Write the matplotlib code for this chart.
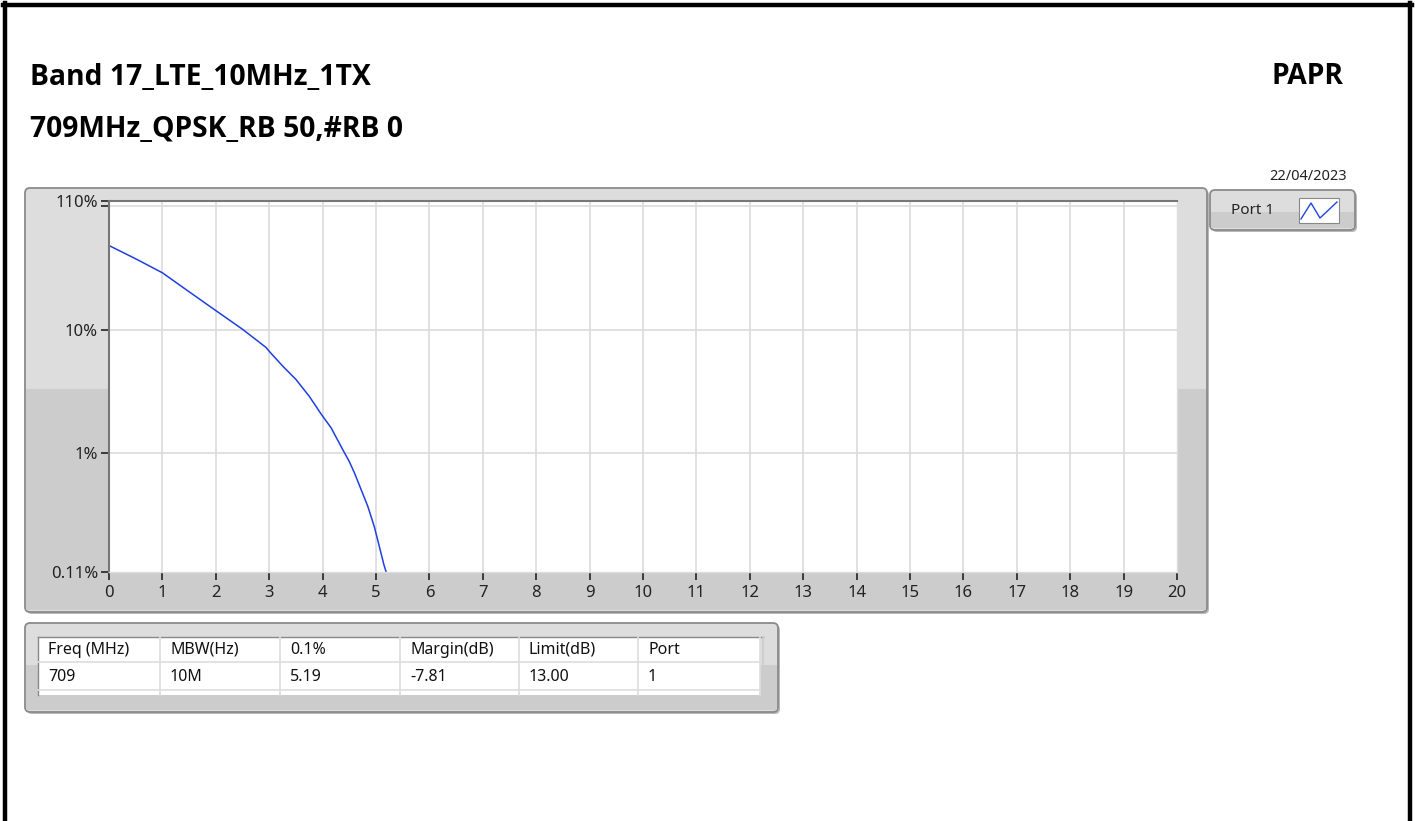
import numpy as np
import matplotlib.pyplot as plt
from matplotlib.patches import FancyBboxPatch, Rectangle
from matplotlib.ticker import FixedLocator, NullFormatter

# PAPR CCDF curve
papr_db = [0.0, 0.5, 1.0, 1.5, 2.0, 2.5, 2.94, 3.0, 3.25, 3.5, 3.75, 3.97, 4.16, 4.25,
           4.4, 4.5, 4.6, 4.75, 4.85, 4.97, 5.08, 5.15, 5.19]
ccdf_pct = [48.0, 37.5, 28.9, 20.3, 14.3, 10.1, 7.2, 6.7, 5.1, 3.97, 2.9, 2.09, 1.61, 1.36,
            1.03, 0.86, 0.69, 0.475, 0.37, 0.254, 0.165, 0.125, 0.11]

y_ticks = [110, 10, 1, 0.11]
y_tick_labels = ['110%', '10%', '1%', '0.11%']
y_grid = [100, 10, 1]
x_ticks = list(range(0, 21))

title1 = 'Band 17_LTE_10MHz_1TX'
title2 = '709MHz_QPSK_RB 50,#RB 0'
test_name = 'PAPR'
date_str = '22/04/2023'
legend_name = 'Port 1'

table_cols = ['Freq (MHz)', 'MBW(Hz)', '0.1%', 'Margin(dB)', 'Limit(dB)', 'Port']
table_row = ['709', '10M', '5.19', '-7.81', '13.00', '1']

W, H = 1415, 821
plt.rcParams['font.family'] = ['Noto Sans', 'DejaVu Sans']
fig = plt.figure(figsize=(W / 100, H / 100), dpi=100)
fig.patch.set_facecolor('white')


def px(x0, y0, x1, y1):
    return [x0 / W, 1 - y1 / H, (x1 - x0) / W, (y1 - y0) / H]


bg = fig.add_axes([0, 0, 1, 1])
bg.set_xlim(0, W)
bg.set_ylim(H, 0)
bg.axis('off')

# outer black frame
bg.add_line(plt.Line2D([5, 5], [3, H], color='black', lw=3.2))
bg.add_line(plt.Line2D([3, 1412], [5, 5], color='black', lw=3.2))
bg.add_line(plt.Line2D([1410, 1410], [3, H], color='black', lw=3.2))

# titles
tfont = dict(fontsize=20.3, fontweight='bold', family=['Open Sans', 'DejaVu Sans'], va='center')
bg.text(30, 77, title1, ha='left', **tfont)
bg.text(30, 129, title2, ha='left', **tfont)
bg.text(1343, 77, test_name, ha='right', **tfont)
bg.text(1347, 176, date_str, fontsize=10.5, va='center', ha='right', color='#222222')


def panel(x0, y0, x1, y1, split):
    # shadow
    bg.add_patch(FancyBboxPatch((x0 + 2, y0 + 2), x1 - x0, y1 - y0,
                                boxstyle='round,pad=0,rounding_size=5',
                                fc='#b8b8b8', ec='none', zorder=1))
    bg.add_patch(FancyBboxPatch((x0, y0), x1 - x0, y1 - y0,
                                boxstyle='round,pad=0,rounding_size=5',
                                fc='#dddddd', ec='#8a8a8a', lw=1.3, zorder=2))
    bg.add_patch(Rectangle((x0 + 1, split), x1 - x0 - 2, y1 - split - 2,
                           fc='#cccccc', ec='none', zorder=2.5))


# graph panel
panel(25, 188, 1207, 612, 389)
# legend panel
panel(1210, 190, 1355, 230, 212)
bg.text(1253, 211, legend_name, fontsize=11, va='center', ha='center', color='#222222', zorder=5)
bg.add_patch(Rectangle((1299, 198), 40, 25, fc='white', ec='#888888', lw=0.8, zorder=5))
bg.plot([1301, 1311, 1320, 1337], [219, 203, 218, 202], color='#2244dd', lw=1, zorder=6)

# table panel
panel(25, 623, 778, 712, 665)
tx0, tx1 = 38, 760
bg.add_patch(Rectangle((tx0, 637), tx1 - tx0, 58, fc='white', ec='none', zorder=3))
bg.add_line(plt.Line2D([tx0, tx1 + 3], [637, 637], color='#888888', lw=1, zorder=4))
bg.add_line(plt.Line2D([tx0, tx0], [637, 695], color='#888888', lw=1, zorder=4))
for yy in [662, 690]:
    bg.add_line(plt.Line2D([tx0, tx1], [yy, yy], color='#dddddd', lw=1.2, zorder=4))
col_x = [38, 160, 280, 400, 519, 638, 760]
for cx in col_x[1:]:
    bg.add_line(plt.Line2D([cx, cx], [637, 695], color='#dddddd', lw=1.2, zorder=4))
bg.add_line(plt.Line2D([763, 763], [637, 695], color='#cccccc', lw=1.2, zorder=4))
for i, (hdr, val) in enumerate(zip(table_cols, table_row)):
    bg.text(col_x[i] + 10, 650, hdr, fontsize=11.5, va='center', ha='left', color='#111111', zorder=5)
    bg.text(col_x[i] + 10, 677, val, fontsize=11.5, va='center', ha='left', color='#111111', zorder=5)

# plot area
ax = fig.add_axes(px(109, 201, 1177, 572))
ax.set_zorder(5)
ax.set_facecolor('white')
ax.plot(papr_db, ccdf_pct, color='#1f3fe0', lw=1.1)
ax.set_yscale('log')
ax.set_xlim(0, 20)
ax.set_ylim(0.11, 110)
ax.xaxis.set_major_locator(FixedLocator(x_ticks))
ax.set_xticklabels([str(t) for t in x_ticks])
ax.yaxis.set_major_locator(FixedLocator(y_ticks))
ax.set_yticklabels(y_tick_labels)
ax.yaxis.set_minor_locator(FixedLocator([100]))
ax.yaxis.set_minor_formatter(NullFormatter())
for g in y_grid:
    ax.axhline(g, color='#dcdcdc', lw=1.2, zorder=0)
for t in x_ticks[1:-1]:
    ax.axvline(t, color='#dcdcdc', lw=1.2, zorder=0)
ax.tick_params(axis='both', which='both', direction='out', length=6, width=1.2,
               color='#222222', labelsize=12, labelcolor='#222222')
ax.tick_params(axis='y', which='minor', length=6)
ax.tick_params(axis='x', pad=3)
ax.tick_params(axis='y', pad=2)
for s in ['left', 'top']:
    ax.spines[s].set_color('#777777')
    ax.spines[s].set_linewidth(1.5)
for s in ['right', 'bottom']:
    ax.spines[s].set_color('#dddddd')
    ax.spines[s].set_linewidth(1)

fig.savefig('out.png', dpi=100)
